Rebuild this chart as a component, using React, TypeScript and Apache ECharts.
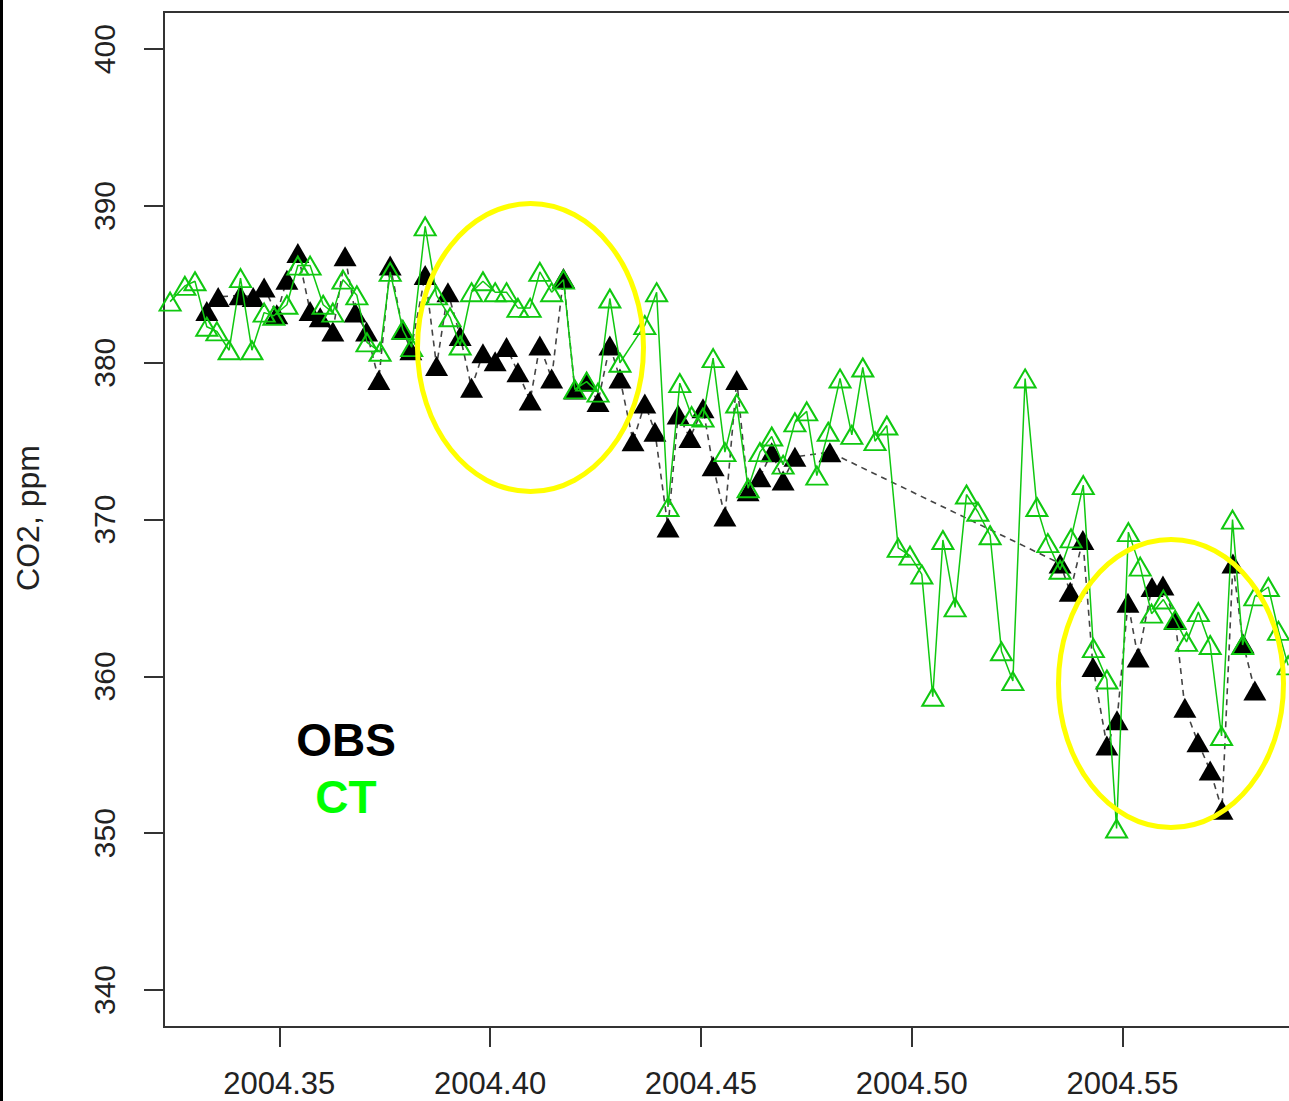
import React, { useEffect, useRef } from "react";
import * as echarts from "echarts";

// Observations (black filled triangles, dashed line)
const obsX = [
  2004.3328, 2004.3355, 2004.3407, 2004.3438, 2004.3464, 2004.3494, 2004.3518, 2004.3544,
  2004.3573, 2004.3597, 2004.3627, 2004.3656, 2004.368, 2004.3707, 2004.3736, 2004.3763,
  2004.3793, 2004.3812, 2004.3846, 2004.3873, 2004.39, 2004.3929, 2004.3956, 2004.3983,
  2004.4012, 2004.4039, 2004.4066, 2004.4095, 2004.4118, 2004.4146, 2004.4174, 2004.4201,
  2004.4229, 2004.4256, 2004.4284, 2004.4308, 2004.4339, 2004.4367, 2004.4391, 2004.4422,
  2004.4446, 2004.4474, 2004.4505, 2004.4529, 2004.4557, 2004.4585, 2004.4612, 2004.464,
  2004.4668, 2004.4695, 2004.4723, 2004.4806, 2004.5352, 2004.5376, 2004.5406, 2004.543,
  2004.5463, 2004.5487, 2004.5513, 2004.5537, 2004.557, 2004.5596, 2004.5625, 2004.5648,
  2004.5679, 2004.5708, 2004.5736, 2004.5762, 2004.5786, 2004.5814,
];
const obsY = [
  383.3, 384.2, 384.3, 384.2, 384.8, 383.1, 385.3, 387.0,
  383.3, 382.9, 382.0, 386.8, 383.2, 382.0, 378.9, 386.2,
  382.1, 380.8, 385.6, 379.8, 384.5, 381.7, 378.4, 380.6,
  380.1, 381.0, 379.4, 377.6, 381.1, 379.0, 385.4, 378.3,
  378.8, 377.5, 381.1, 379.0, 375.0, 377.4, 375.6, 369.5,
  376.7, 375.2, 377.1, 373.4, 370.2, 378.9, 371.8, 372.7,
  374.3, 372.5, 374.0, 374.3, 367.2, 365.4, 368.7, 360.6,
  355.6, 357.2, 364.7, 361.2, 365.7, 365.8, 363.6, 358.0,
  355.8, 354.0, 351.5, 367.2, 362.1, 359.1,
];

// CarbonTracker model (green open triangles, solid line)
const ctX = [
  2004.3241, 2004.3276, 2004.33, 2004.3328, 2004.3352, 2004.3381, 2004.3408, 2004.3435,
  2004.3464, 2004.3487, 2004.3518, 2004.3544, 2004.3573, 2004.3604, 2004.3627, 2004.3651,
  2004.3684, 2004.3708, 2004.3739, 2004.3763, 2004.3793, 2004.3814, 2004.3846, 2004.3873,
  2004.3905, 2004.3929, 2004.3956, 2004.3983, 2004.4012, 2004.4039, 2004.4066, 2004.4095,
  2004.4118, 2004.4146, 2004.4174, 2004.4201, 2004.4229, 2004.4256, 2004.4284, 2004.4308,
  2004.4367, 2004.4395, 2004.4422, 2004.445, 2004.4478, 2004.4505, 2004.4529, 2004.4557,
  2004.4585, 2004.4612, 2004.464, 2004.4668, 2004.4695, 2004.4723, 2004.4751, 2004.4775,
  2004.4802, 2004.483, 2004.4858, 2004.4884, 2004.4913, 2004.4941, 2004.4968, 2004.4996,
  2004.5024, 2004.505, 2004.5074, 2004.5103, 2004.513, 2004.5157, 2004.5186, 2004.5213,
  2004.524, 2004.5269, 2004.5297, 2004.5323, 2004.5352, 2004.5378, 2004.5407, 2004.5431,
  2004.5463, 2004.5486, 2004.5514, 2004.5542, 2004.5569, 2004.5597, 2004.5625, 2004.5652,
  2004.568, 2004.5708, 2004.5735, 2004.5761, 2004.5785, 2004.5814, 2004.5846, 2004.587,
  2004.5893,
];
const ctY = [
  383.9, 384.9, 385.2, 382.3, 382.0, 380.8, 385.4, 380.8,
  383.2, 383.0, 383.7, 386.2, 386.2, 383.7, 383.2, 385.3,
  384.3, 381.3, 380.7, 385.8, 382.1, 381.0, 388.7, 384.3,
  382.9, 381.1, 384.5, 385.2, 384.5, 384.5, 383.5, 383.5,
  385.8, 384.5, 385.3, 378.3, 378.8, 378.1, 384.1, 380.0,
  382.4, 384.5, 370.8, 378.7, 376.6, 376.5, 380.3, 374.3,
  377.4, 372.0, 374.3, 375.3, 373.5, 376.2, 376.9, 372.8,
  375.6, 379.0, 375.4, 379.7, 375.0, 376.0, 368.2, 367.7,
  366.5, 358.7, 368.7, 364.4, 371.6, 370.5, 369.0, 361.6,
  359.7, 379.0, 370.8, 368.5, 366.8, 368.8, 372.2, 361.8,
  359.8, 350.3, 369.2, 367.0, 364.0, 364.9, 363.6, 362.2,
  364.1, 362.0, 356.2, 370.0, 362.0, 365.1, 365.7, 362.9,
  360.7,
];

const xTicks = [2004.35, 2004.4, 2004.45, 2004.5, 2004.55];
const yTicks = [340, 350, 360, 370, 380, 390, 400];
const yTitle = "CO2, ppm";
const legendLabels = ["OBS", "CT"];

const FONT = "'Liberation Sans', Arial, Helvetica, sans-serif";

export default function App() {
  const ref = useRef<HTMLDivElement>(null);

  useEffect(() => {
    document.body.style.margin = "0";
    document.body.style.overflow = "hidden";
    const chart = echarts.init(ref.current as HTMLDivElement, null, { renderer: "svg" });

    const obsData = obsX.map((x, i) => [x, obsY[i]]);
    const ctData = ctX.map((x, i) => [x, ctY[i]]);

    chart.setOption({
      animation: false,
      backgroundColor: "#ffffff",
      grid: {
        left: 164,
        top: 12,
        right: 1,
        bottom: 74,
        show: true,
        borderColor: "#333333",
        borderWidth: 2,
        backgroundColor: "transparent",
      },
      xAxis: {
        type: "value",
        min: 2004.32265,
        max: 2004.59187,
        axisLine: { show: false },
        splitLine: { show: false },
        axisTick: {
          show: true,
          customValues: xTicks,
          length: 20,
          lineStyle: { color: "#333333", width: 2 },
        },
        axisLabel: {
          customValues: xTicks,
          formatter: (v: number) => v.toFixed(2),
          fontSize: 31,
          lineHeight: 31,
          fontFamily: FONT,
          color: "#222222",
          margin: 41,
        },
      },
      yAxis: {
        type: "value",
        min: 337.64,
        max: 402.37,
        axisLine: { show: false },
        splitLine: { show: false },
        axisTick: {
          show: true,
          customValues: yTicks,
          length: 20,
          lineStyle: { color: "#333333", width: 2 },
        },
        axisLabel: {
          customValues: yTicks,
          formatter: (v: number) => String(Math.round(v)),
          rotate: 90,
          fontSize: 30,
          fontFamily: FONT,
          color: "#222222",
          margin: 45,
        },
      },
      series: [
        {
          name: legendLabels[0],
          type: "line",
          data: obsData,
          symbol: "triangle",
          symbolSize: [23, 20],
          showSymbol: true,
          itemStyle: { color: "#000000" },
          lineStyle: { color: "#444444", width: 1.6, type: [6, 5] },
          emphasis: { disabled: true },
          z: 2,
        },
        {
          name: legendLabels[1],
          type: "line",
          data: ctData,
          symbol: "triangle",
          symbolSize: [21, 18],
          showSymbol: true,
          itemStyle: { color: "transparent", borderColor: "#10c810", borderWidth: 2 },
          lineStyle: { color: "#10c810", width: 1.5 },
          emphasis: { disabled: true },
          z: 3,
        },
      ],
      graphic: [
        { type: "rect", left: 0, top: 0, shape: { x: 0, y: 0, width: 3, height: 1101 }, style: { fill: "#000000" }, z: 100 },
        {
          type: "text",
          x: 28,
          y: 518,
          rotation: Math.PI / 2,
          style: { text: yTitle, fontSize: 32, fontFamily: FONT, fill: "#222222", align: "center", verticalAlign: "middle" },
          z: 100,
        },
        {
          type: "text",
          x: 346,
          y: 740,
          style: { text: legendLabels[0], fontSize: 46, fontWeight: "bold", fontFamily: FONT, fill: "#000000", align: "center", verticalAlign: "middle" },
          z: 100,
        },
        {
          type: "text",
          x: 346,
          y: 797,
          style: { text: legendLabels[1], fontSize: 46, fontWeight: "bold", fontFamily: FONT, fill: "#00ff00", align: "center", verticalAlign: "middle" },
          z: 100,
        },
        {
          type: "ellipse",
          shape: { cx: 530.5, cy: 347.5, rx: 113, ry: 144 },
          style: { fill: "none", stroke: "#ffff00", lineWidth: 5 },
          z: 100,
        },
        {
          type: "ellipse",
          shape: { cx: 1171, cy: 683.5, rx: 112.5, ry: 144 },
          style: { fill: "none", stroke: "#ffff00", lineWidth: 5 },
          z: 100,
        },
      ],
    });

    return () => chart.dispose();
  }, []);

  return <div ref={ref} style={{ width: 1300, height: 1101 }} />;
}
